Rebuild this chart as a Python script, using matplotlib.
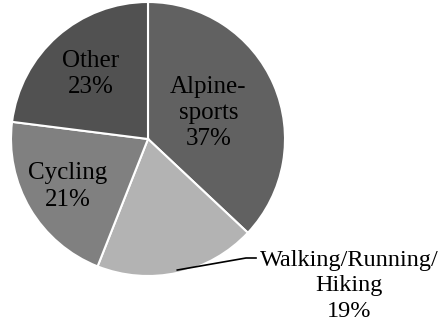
import numpy as np
import matplotlib
matplotlib.use('Agg')
import matplotlib.pyplot as plt

matplotlib.rcParams['font.family'] = ['Liberation Serif', 'DejaVu Serif']

labels = ['Alpine-\nsports', 'Walking/Running/\nHiking', 'Cycling', 'Other']
shares = [37, 19, 21, 23]
colors = ['#616161', '#b3b3b3', '#808080', '#515151']
# radial position of each inside label, as a fraction of the radius
label_r = [0.48, None, 0.68, 0.63]

fig = plt.figure(figsize=(4.42, 3.22), dpi=100)
ax = fig.add_axes([0, 0, 1, 1])

cx, cy, R = 148, 183, 137
wedges, _ = ax.pie(shares, colors=colors, startangle=90, counterclock=False,
                   center=(cx, cy), radius=R, frame=True,
                   wedgeprops=dict(edgecolor='white', linewidth=1.5))
ax.set_xlim(0, 442)
ax.set_ylim(0, 322)
ax.set_aspect('equal')
ax.axis('off')

for w, lab, val, lr in zip(wedges, labels, shares, label_r):
    mid = np.deg2rad((w.theta1 + w.theta2) / 2)
    if lr is None:
        # outside label with a leader line
        x0 = cx + 0.98 * R * np.cos(mid)
        y0 = cy + 0.98 * R * np.sin(mid)
        ax.plot([x0, 246, 256], [y0, 64, 64], color='black', lw=1.2)
        ax.text(349, 36, '%s\n%d%%' % (lab, val), ha='center', va='center',
                fontsize=17.5, linespacing=1.27)
    else:
        x = cx + lr * R * np.cos(mid)
        y = cy + lr * R * np.sin(mid)
        ax.text(x, y, '%s\n%d%%' % (lab, val), ha='center', va='center',
                fontsize=18, linespacing=1.25)

plt.savefig('out.png', dpi=100)
